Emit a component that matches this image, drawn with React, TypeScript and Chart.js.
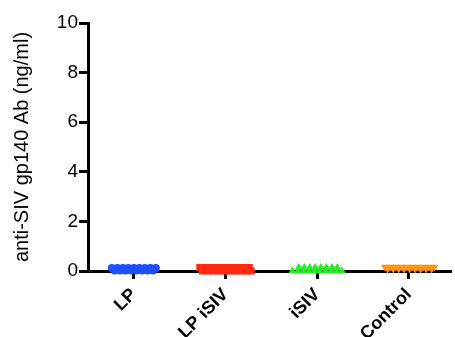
import React, { useEffect, useRef } from "react";
import { Chart, registerables } from "chart.js";
Chart.register(...registerables);

const categories = ["LP", "LP iSIV", "iSIV", "Control"];
const yTicks = [0, 2, 4, 6, 8, 10];

// horizontal jitter offsets (in category units) for the dots in each group
const lpOffsets = [-0.24, -0.18, -0.12, -0.06, 0, 0.06, 0.12, 0.18, 0.24, -0.21, -0.15, -0.09, -0.03, 0.03, 0.09, 0.15, 0.21];
const lpValues = [0.12, 0.12, 0.12, 0.12, 0.12, 0.12, 0.12, 0.12, 0.12, 0.02, 0.02, 0.02, 0.02, 0.02, 0.02, 0.02, 0.02];

const lpIsivOffsets = [-0.28, -0.22, -0.16, -0.1, -0.04, 0.02, 0.08, 0.14, 0.2, 0.26, -0.25, -0.19, -0.13, -0.07, -0.01, 0.05, 0.11, 0.17, 0.23, 0.28];
const lpIsivValues = [0.14, 0.14, 0.14, 0.14, 0.14, 0.14, 0.14, 0.14, 0.14, 0.14, 0.0, 0.0, 0.0, 0.0, 0.0, 0.0, 0.0, 0.0, 0.0, 0.0];

const isivOffsets = [-0.2, -0.14, -0.08, -0.02, 0.04, 0.1, 0.16, 0.22, -0.27, -0.21, -0.15, -0.09, -0.03, 0.03, 0.09, 0.15, 0.21, 0.27];
const isivValues = [0.14, 0.14, 0.14, 0.14, 0.14, 0.14, 0.14, 0.14, 0.0, 0.0, 0.0, 0.0, 0.0, 0.0, 0.0, 0.0, 0.0, 0.0];

const controlOffsets = [-0.26, -0.2, -0.14, -0.08, -0.02, 0.04, 0.1, 0.16, 0.22, 0.28, -0.23, -0.17, -0.11, -0.05, 0.01, 0.07, 0.13, 0.19, 0.25];
const controlValues = [0.16, 0.16, 0.16, 0.16, 0.16, 0.16, 0.16, 0.16, 0.16, 0.16, 0.08, 0.08, 0.08, 0.08, 0.08, 0.08, 0.08, 0.08, 0.08];

const groupColors = ["#1f4fff", "#ff2a10", "#22ee22", "#ff9410"];

function points(center: number, offsets: number[], values: number[]) {
  return values.map((v, i) => ({ x: center + offsets[i], y: v }));
}

export default function App() {
  const ref = useRef<HTMLCanvasElement | null>(null);
  useEffect(() => {
    if (!ref.current) return;
    const chart = new Chart(ref.current, {
      type: "scatter",
      data: {
        datasets: [
          { data: points(1, lpOffsets, lpValues), pointStyle: "circle", pointRadius: 4, backgroundColor: groupColors[0], borderColor: groupColors[0], borderWidth: 0, clip: false },
          { data: points(2, lpIsivOffsets, lpIsivValues), pointStyle: "rect", pointRadius: 5, backgroundColor: groupColors[1], borderColor: groupColors[1], borderWidth: 0, clip: false },
          { data: points(3, isivOffsets, isivValues), pointStyle: "triangle", pointRadius: 4.5, backgroundColor: groupColors[2], borderColor: groupColors[2], borderWidth: 0, clip: false },
          { data: points(4, controlOffsets, controlValues), pointStyle: "triangle", rotation: 180, pointRadius: 4.5, backgroundColor: groupColors[3], borderColor: groupColors[3], borderWidth: 0, clip: false },
        ] as any,
      },
      options: {
        animation: false,
        responsive: false,
        maintainAspectRatio: false,
        layout: { padding: { top: 23, right: 0, left: 10, bottom: 0 } },
        plugins: { legend: { display: false }, tooltip: { enabled: false } },
        scales: {
          x: {
            type: "linear",
            min: 0.5,
            max: 4.45,
            afterBuildTicks: (s: any) => {
              s.ticks = categories.map((_, i) => ({ value: i + 1 }));
            },
            afterFit: (s: any) => {
              s.height = 66;
            },
            ticks: {
              callback: (v: any) => categories[Math.round(Number(v)) - 1] ?? "",
              minRotation: 45,
              maxRotation: 45,
              color: "#000",
              padding: 5,
              font: { family: "Liberation Sans, Arial", size: 18, weight: "bold" },
            },
            grid: { drawOnChartArea: false, drawTicks: true, tickLength: 8, lineWidth: 3, color: "#000" },
            border: { display: true, width: 3, color: "#000" },
          },
          y: {
            min: 0,
            max: 10,
            afterBuildTicks: (s: any) => {
              s.ticks = yTicks.map((v) => ({ value: v }));
            },
            afterFit: (s: any) => {
              s.width = 78;
            },
            ticks: {
              color: "#000",
              padding: 1,
              font: { family: "Liberation Sans, Arial", size: 19 },
            },
            title: {
              display: true,
              text: "anti-SIV gp140 Ab (ng/ml)",
              color: "#000",
              font: { family: "Liberation Sans, Arial", size: 20 },
              padding: { top: 0, bottom: 8 },
            },
            grid: { drawOnChartArea: false, drawTicks: true, tickLength: 9, lineWidth: 3, color: "#000" },
            border: { display: true, width: 3, color: "#000" },
          },
        },
      },
    });
    return () => chart.destroy();
  }, []);
  return (
    <div style={{ position: "fixed", left: 0, top: 0, width: 455, height: 337, background: "#fff" }}>
      <canvas ref={ref} width={455} height={337} style={{ width: 455, height: 337 }} />
    </div>
  );
}
